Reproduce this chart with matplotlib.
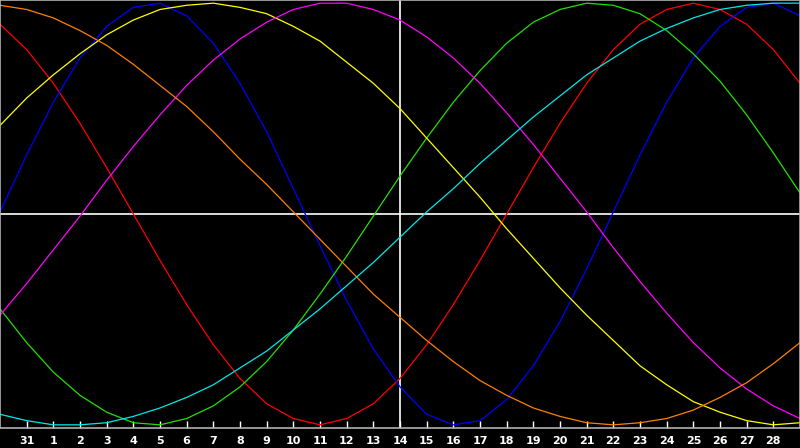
import numpy as np
import matplotlib.pyplot as plt

# Dias mostrados (del 30 del mes anterior al 29)
dias = np.arange(31)
etiquetas = ["31"] + [str(d) for d in range(1, 29)]   # ticks en los dias 1..29
hoy = 15   # linea vertical (dia 14)

# Valores, en % (-100 a 100)
rojo = [90, 78, 62, 43, 22, 0, -22, -43, -62, -78, -90, -97, -100, -97, -90, -78,
        -62, -43, -22, 0, 22, 43, 62, 78, 90, 97, 100, 97, 90, 78, 62]
azul = [1, 28, 53, 74, 89, 98, 100, 94, 81, 62, 39, 12, -15, -41, -64, -82,
        -95, -100, -98, -88, -72, -51, -26, 1, 28, 53, 74, 89, 98, 100, 94]
verde = [-45, -61, -75, -86, -94, -99, -100, -97, -91, -82, -70, -55, -38, -20, -1, 18,
         36, 53, 68, 81, 91, 97, 100, 99, 95, 87, 76, 63, 47, 29, 10]
amarillo = [42, 55, 66, 76, 85, 92, 97, 99, 100, 98, 95, 89, 82, 72, 62, 50,
            36, 22, 8, -7, -21, -35, -48, -60, -72, -81, -89, -94, -98, -100, -99]
magenta = [-48, -33, -17, -1, 16, 32, 47, 61, 73, 83, 91, 97, 100, 100, 97, 92,
           84, 74, 62, 48, 33, 17, 1, -16, -32, -47, -61, -73, -83, -91, -97]
naranja = [99, 97, 93, 87, 80, 71, 61, 51, 39, 26, 14, 1, -12, -25, -38, -49,
           -60, -70, -79, -86, -92, -96, -99, -100, -99, -97, -93, -87, -80, -71, -61]
cian = [-95, -98, -100, -100, -99, -96, -92, -87, -81, -73, -65, -55, -45, -34, -23, -11,
        1, 12, 24, 35, 46, 56, 66, 74, 82, 88, 93, 97, 99, 100, 100]

series = [(rojo, "#ff0000"), (azul, "#0000ff"), (verde, "#22e000"),
          (amarillo, "#ffff00"), (magenta, "#ff00ff"), (naranja, "#ff8000"),
          (cian, "#00e8e8")]

fig = plt.figure(figsize=(8, 4.48), dpi=100, facecolor="black")
ax = fig.add_axes([0, 20 / 448, 1, 428 / 448])
ax.set_facecolor("black")

ax.axhline(0, color="white", lw=1.2, zorder=1)
ax.axvline(hoy, color="white", lw=1.2, zorder=1)

for valores, color in series:
    ax.plot(dias, valores, color=color, lw=0.9, zorder=2)

ax.set_xlim(0, 30)
ax.set_ylim(-101.5, 101.5)

ax.set_xticks(np.arange(1, 30))
ax.set_xticklabels(etiquetas)
ax.tick_params(axis="x", direction="in", length=5, width=1, color="white",
               labelcolor="white", labelsize=8, pad=6)
for t in ax.get_xticklabels():
    t.set_fontweight("bold")
ax.set_yticks([])

for s in ax.spines.values():
    s.set_color("#b0b0b0")
    s.set_linewidth(1.2)

fig.savefig("out.png", dpi=100, facecolor="black")
